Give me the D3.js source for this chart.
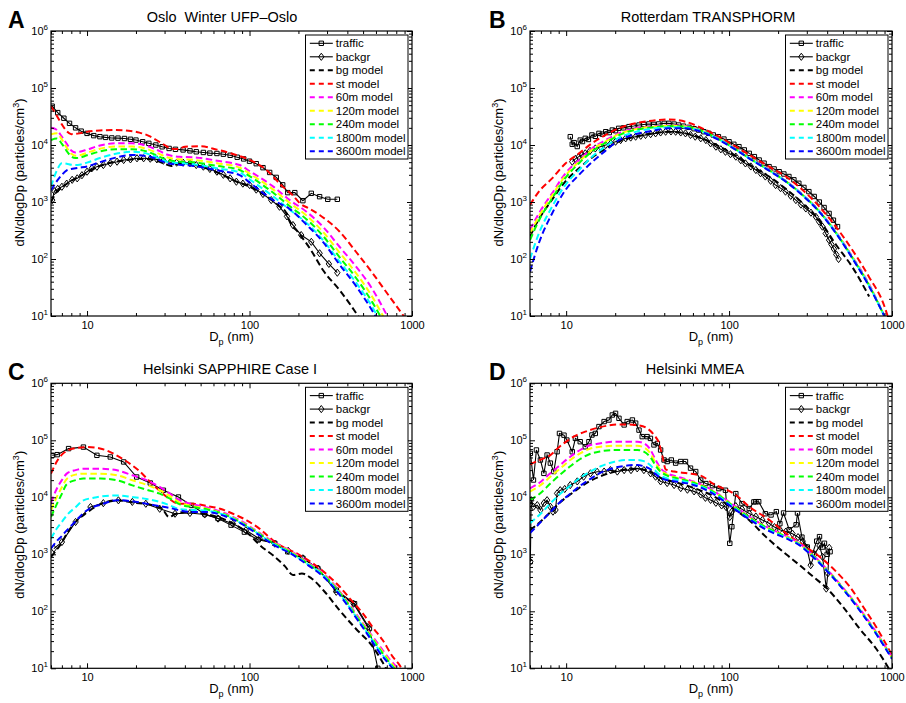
<!DOCTYPE html>
<html><head><meta charset="utf-8">
<script src="https://cdn.jsdelivr.net/npm/d3@7"></script>
<style>
body{margin:0;background:#fff}
svg{display:block}
text{font-family:"Liberation Sans",Arial,Helvetica,sans-serif;fill:#000;white-space:pre}
</style>
</head><body>
<svg id="c" width="906" height="703"></svg>
<script>
// ---------- labels ----------
const legendLabels = ["traffic","backgr","bg model","st model","60m model","120m model","240m model","1800m model","3600m model"];
const modelColors = ["#000000","#ff0000","#ff00ff","#ffff00","#00ff00","#00ffff","#0000ff"];
const xMajorTicks = [10,100,1000];
const xMinorTicks = [6,7,8,9,20,30,40,50,60,70,80,90,200,300,400,500,600,700,800,900];
const yMajorTicks = [10,100,1000,10000,100000,1000000];
const yExponents = [1,2,3,4,5,6];
const panelTitles = ["Oslo\u00a0 Winter UFP\u2013Oslo","Rotterdam TRANSPHORM","Helsinki SAPPHIRE Case I","Helsinki MMEA"];
const panelLetters = ["A","B","C","D"];

// ---------- Panel A : Oslo ----------
const A_traffic = [[6.1,48000],[6.6,37000],[7.2,29500],[7.8,24000],[8.5,20000],[9.2,17500],[10,16000],[11,14600],[12,14000],[13,13600],[14.2,13300],[15.5,13200],[17,13000],[18.5,12600],[20,12200],[22,11400],[24,10700],[26.5,10000],[29,9300],[32,8700],[35,8400],[39,8200],[43,7900],[47,7600],[52,7400],[57,7200],[63,7100],[69,6900],[76,6600],[84,6100],[92,5700],[100,5200],[110,4700],[121,4000],[133,3300],[146,2700],[160,2000],[172,1460],[190,1460],[213,1055],[240,1420],[270,1240],[303,1115],[347,1115]];
const A_backgr = [[6.1,1080],[6.3,1550],[6.6,1700],[7,1850],[7.5,2100],[8.1,2450],[8.7,2600],[9.3,2950],[10,3400],[10.7,3900],[11.5,4150],[12.6,4450],[13.9,4800],[15.3,5100],[16.8,5450],[18.5,5600],[20.3,5850],[22.3,5850],[24.5,5750],[26.9,5600],[29.5,5300],[32.5,4970],[35.6,4900],[39,4900],[43,4800],[47,4450],[52,4170],[57,3800],[63,3400],[69,3000],[76,2600],[83,2270],[91,2100],[100,1990],[110,1650],[121,1380],[136,1080],[153,826],[170,560],[185,394],[208,263],[240,200],[270,126],[308,82],[347,57.5]];
const A_bgModel = [[6,1000],[6.5,1500],[7,1800],[8,2350],[9,2800],[10,3300],[12,4300],[15,5100],[18,5500],[22,5700],[26,5400],[30,4700],[33,4300],[36,4700],[40,4800],[50,4200],[63,3300],[80,2400],[100,1850],[125,1300],[150,880],[169,630],[177,450],[200,290],[240,140],[283,64],[358,28.5],[410,17],[466,10],[500,7.5]];
const A_stModel = [[6,48000],[6.5,33000],[7,23000],[7.5,17500],[8,15500],[9,16000],[10,17000],[12,18000],[15,18300],[18,17800],[21,16500],[24,14500],[27,12000],[30,10000],[33,8600],[36,8500],[40,9300],[50,9500],[63,8300],[80,6900],[100,5500],[125,3800],[160,1860],[185,1300],[204,950],[235,760],[270,592],[359,301],[452,134],[573,56],[726,22],[877,10.5],[950,7.5]];
const A_grid = [6,6.5,7,7.5,8,8.5,9,10,12,15,19,24,28,31,37,45,50,63,87,100,140,177,224,283,358,454,573,692];
const A_60m   = [20000,18500,14000,10500,8000,7400,7600,8300,9800,10700,10700,9400,7800,6800,6200,6100,5900,5300,4450,3500,1860,1080,676,369,164,73,29,11];
const A_120m  = [15500,16000,12500,9000,7000,6500,6600,7300,8600,9400,9400,8300,6900,6100,5600,5500,5300,4800,4000,3150,1650,960,580,300,130,56,21,8];
const A_240m  = [12200,13000,10500,7800,6300,5900,6000,6600,7700,8400,8400,7500,6200,5500,5100,5000,4800,4300,3650,2850,1450,840,500,255,108,46,17,6.5];
const A_1800m = [1850,3500,4800,4700,4500,4450,4500,4900,5900,7000,7600,6900,5800,5100,4800,4600,4400,3900,3300,2500,1250,730,430,215,90,38,14,5.2];
const A_3600m = [1600,2300,3000,3600,3800,3900,4000,4200,5000,6000,6700,6300,5400,4800,4500,4300,4100,3600,2960,2200,1080,750,400,200,80,33,12,4.5];

// ---------- Panel B : Rotterdam ----------
const B_traffic = [[10.6,14000],[10.9,10300],[11.2,11000],[11.7,9400],[12.2,12200],[12.6,11500],[13.1,13100],[13.7,12500],[14.4,15000],[15.1,14200],[15.9,16000],[16.7,15500],[17.5,17100],[18.4,16500],[19.2,18300],[20.1,17800],[21,19600],[22.5,20000],[24.3,21000],[26,21500],[28,22400],[30,22900],[32.2,23400],[34.5,23000],[37,23400],[40,24000],[42.7,24000],[46,23300],[49,22400],[52.5,21400],[56.7,20400],[61,19300],[65,18300],[70,17100],[75,16000],[80,15000],[86,14000],[93,12700],[100,11400],[107,10300],[115,9350],[124,8200],[133,7140],[143,6250],[153,5450],[164,4800],[176,4170],[189,3800],[203,3400],[217,3100],[233,2800],[250,2450],[268,2130],[288,1800],[309,1520],[333,1250],[358,1000],[383,800],[411,630],[437,480],[463,370]];
const B_backgr = [[10.9,5100],[11.4,5700],[11.96,6250],[12.5,6700],[13.1,7140],[14,7900],[15.1,8700],[16.2,9300],[17.5,10000],[18.8,10700],[20.1,11400],[21.6,12200],[23.2,13100],[24.9,13500],[26.7,14000],[28.7,14500],[30.7,15000],[33,15500],[35.4,16000],[38,16600],[40.8,17100],[44,17300],[47,17100],[50.5,16600],[54,16000],[58,15000],[62,14000],[67,13100],[72,12200],[77,10700],[83,9350],[89,8400],[95,7600],[102,6900],[110,6250],[118,5400],[126,4750],[136,4200],[146,3640],[156,3200],[167,2800],[180,2350],[193,1980],[207,1750],[222,1520],[239,1280],[257,1080],[276,900],[296,770],[318,650],[341,550],[357,450],[374,370],[392,280],[411,215],[425,180],[440,150],[455,120],[470,100]];
const B_grid = [6,6.8,8.2,9.9,12,14.4,17.5,21,26.7,33.8,42.7,54,68.5,86.7,110,139,176,223,283,358,452,571,724,897];
const B_bgModel = [250,500,1100,2300,3900,6000,8600,11500,14000,16000,17000,16000,13000,9500,6500,4200,2800,1700,950,480,180,72,22,6];
const B_stModel = [890,1520,2600,4750,7140,10700,15000,19600,24000,26700,28100,25600,19600,14000,9350,6250,4170,2800,1620,830,370,144,48,15];
const B_60m   = [325,630,1420,3180,5450,8700,12200,16000,19600,21000,22000,21400,17800,12800,8500,5500,3700,2350,1350,700,300,110,36,10];
const B_120m  = [280,560,1300,2900,5100,8200,11600,15500,19000,20700,21700,21200,17600,12700,8400,5450,3650,2320,1330,690,295,108,35,10];
const B_240m  = [215,470,1150,2650,4800,7700,11000,14800,18500,20300,21400,21000,17500,12600,8350,5400,3600,2300,1320,680,290,105,34,10];
const B_1800m = [100,280,830,2000,3640,6200,9500,13300,17000,19300,20500,20300,17200,12500,8300,5400,3600,2300,1320,680,290,105,34,10];
const B_3600m = [60,190,630,1620,3000,5000,8000,12000,15500,17700,19600,19600,16800,12200,8200,5350,3550,2280,1300,670,285,103,33,10];

// ---------- Panel C : Helsinki SAPPHIRE ----------
const C_traffic = [[6.1,54500],[6.55,56000],[7.7,71500],[9.5,76000],[11.5,54500],[13.9,51000],[16.8,41700],[20.2,22700],[24.5,17800],[29.5,13300],[36.5,10100],[44,7200],[53,5100],[64,4250],[77,3250],[93,2450],[113,1800],[143,1560],[172,1110],[213,850],[263,565],[342,235],[443,136],[547,50],[616,10]];
const C_backgr = [[6.25,1260],[7.0,1640],[8.5,3690],[10.5,6760],[12.6,7900],[15.6,8850],[19,8300],[23,7700],[28,6300],[34.8,5150],[43,5300],[53,5000],[64,4230],[79,3440],[95,2640],[115,1880],[143,1540],[173,1150],[213,850],[264,560],[342,220],[437,136],[535,53]];
const C_bgModel = [[6,900],[6.5,1200],[7,1600],[7.5,2300],[8.5,3700],[10,5400],[12,7500],[15.3,8850],[19,8100],[25.6,7200],[29,6300],[32,4500],[35,5100],[40,5500],[45,5500],[55,5000],[70,4100],[85,3100],[100,2200],[116,1440],[140,950],[165,620],[185,433],[210,460],[240,380],[290,220],[358,104],[450,50],[573,24],[692,10],[740,7]];
const C_stModel = [[6,26000],[6.5,42000],[7,56000],[7.5,65000],[8.5,73000],[10,76000],[12,72000],[14.6,58000],[17,45000],[19.3,35000],[21,29000],[24.5,18500],[28,13000],[31,10100],[37,7700],[45,7700],[55,7000],[66,6300],[79,5150],[96,3950],[115,2820],[147,1560],[200,1000],[245,695],[300,440],[358,272],[420,160],[498,92],[580,50],[661,31],[760,16],[836,11.5],[880,9]];
const C_grid = [6,6.5,7,7.5,8.5,9.5,11,12.1,15.3,19,23.3,28,32.4,37.3,45,55,70,85,110,140,177,230,283,340,394,460,540,630,720,817];
const C_60m   = [8000,14000,20000,26000,30000,31700,31700,31700,29700,24300,19900,15200,11600,8850,7500,6600,5300,4100,2600,1650,1170,720,466,270,158,85,45,25,15,10];
const C_120m  = [5900,10000,15000,21000,25000,26000,26000,26000,24300,19900,16500,13300,10500,8000,7000,6300,5100,3950,2520,1600,1130,690,450,260,152,81,43,23,14,9];
const C_240m  = [4500,7500,11500,17000,20000,21300,21300,21300,19900,16200,13500,11600,9500,7500,6700,6100,5000,3850,2470,1560,1100,675,440,253,148,78,41,22,13,8.6];
const C_1800m = [1880,2800,3700,4830,6700,8850,9800,10300,10800,10100,9300,8300,7200,6200,6000,5800,4900,3780,2420,1520,1070,660,430,245,142,75,39,20.5,12.5,8.2];
const C_3600m = [1260,1700,2100,2630,3800,5300,6800,7400,8900,8500,7700,7000,6500,5900,5500,5500,4700,3700,2350,1480,1050,640,410,235,135,72,37,19,12,7.8];

// ---------- Panel D : Helsinki MMEA ----------
const D_traffic = [[6.03,59000],[6.3,20100],[6.57,67600],[6.95,45100],[7.3,26300],[7.64,55200],[8.0,39800],[8.4,28300],[8.8,63100],[9.1,132000],[9.7,123000],[10.1,101000],[10.9,63000],[11.4,108000],[12.2,94500],[13.1,77000],[13.8,94500],[14.4,124000],[15.1,132000],[15.9,174000],[17.1,213000],[18.3,227000],[19.2,278000],[20.1,297000],[21.1,243000],[22.7,186000],[23.7,213000],[25.5,227000],[26.7,200000],[28,151000],[29.3,116000],[31.4,116000],[32.9,108000],[34.6,83000],[36.3,88000],[38,67600],[39.9,45100],[41.7,42400],[44.2,45100],[47,39800],[50.5,42400],[54,42400],[58,32500],[62.4,28300],[67,20100],[72,17400],[79,16000],[86.6,14200],[95,13300],[101,1560],[104,3050],[110,11600],[120,7740],[133,6340],[142,8300],[146,8380],[152,8380],[167,5150],[181,4900],[195,5600],[205,3450],[216,5300],[234,2700],[258,3300],[263,5300],[280,2000],[302,1340],[325,1030],[345,1700],[359,2040],[375,1340],[385,1560],[400,1000],[417,1110]];
const D_backgr = [[6.03,740],[6.1,8900],[6.3,6840],[6.65,7300],[6.95,6000],[7.3,7900],[7.64,8900],[8.0,6840],[8.3,5600],[8.6,6000],[8.8,11700],[9.2,13300],[9.8,14000],[10.6,16400],[11.7,19000],[12.8,23000],[14.1,26300],[15.5,28000],[17.1,28300],[18.7,30000],[20.6,28300],[22.7,30000],[25,30000],[27.3,32200],[30,30000],[33,26300],[35.4,23000],[38,19000],[41.7,17800],[46,16400],[50.5,14500],[55.5,13600],[61,12700],[67,11200],[71.6,9800],[77,9000],[83,8000],[90,7200],[96,6700],[101,4500],[104,5600],[110,7000],[120,6200],[133,5200],[146,4600],[160,4000],[176,3500],[190,3000],[205,2700],[223,2500],[245,2300],[265,2000],[283,1700],[300,1300],[317,645],[335,1000],[359,1400],[375,900],[395,250],[404,465],[412,1300]];
const D_stModel = [[6,38000],[7,46000],[8,55000],[9,75000],[10,95000],[11.7,125000],[13.4,145000],[15.5,165000],[17.8,180000],[20.6,190000],[23.7,190000],[27.3,185000],[31.4,162000],[34.6,124000],[37.2,88000],[39,52000],[40.8,31000],[46,28300],[55.5,26300],[67,24000],[79,17600],[110,11000],[133,6840],[177,4000],[224,2340],[283,1460],[359,910],[455,495],[550,270],[665,120],[800,53],[1000,17]];
const D_grid = [6,7,8,9.2,10.6,12.2,14.1,16.3,19.8,23.7,27.3,30,33,35.4,38,41.7,48,61,80,105,135,169,224,270,330,394,500,631,800,1000];
const D_bgModel = [2630,3800,5500,8200,11200,15000,19500,23500,28000,31000,31700,30500,28000,25000,22000,20000,18000,14500,10500,6500,3800,2000,1000,650,400,260,120,50,22,8];
const D_60m   = [14400,18800,26400,36900,51600,67600,82800,88600,94600,94600,94600,88600,67600,45300,32300,26400,23000,18800,13000,7500,4500,3050,2100,1560,950,567,260,113,43,15.6];
const D_120m  = [12600,16500,23000,32000,45000,59000,72000,77000,80000,80000,80000,75000,58000,40000,30000,25000,22000,18200,12700,7300,4350,3000,2050,1520,930,555,255,110,42,15.4];
const D_240m  = [9000,12000,17500,25000,35000,47000,58000,64000,67600,67600,67600,63000,50000,36000,28000,24000,21500,17800,12500,7200,4300,2950,2000,1500,920,550,252,108,41,15.2];
const D_1800m = [3500,5200,7800,11500,16000,22000,28500,35000,42000,45300,45300,43000,36000,29000,24000,21500,20000,17000,12000,6900,4100,2800,1950,1480,900,540,248,107,41,15.0];
const D_3600m = [2350,3700,5500,8300,11500,16000,21000,27000,33000,36000,36900,35000,31000,25500,22000,20000,18800,16300,11500,6600,4000,2700,1900,1450,880,530,245,105,40,14.6];

// ---------- assembly ----------
const zipG = (g, v) => g.map((d, i) => [d, v[i]]);
const panels = [
  {left:51, top:31, w:361, h:285, titleX:222, letterX:8,
   traffic:A_traffic, backgr:A_backgr,
   models:[A_bgModel, A_stModel, zipG(A_grid,A_60m), zipG(A_grid,A_120m), zipG(A_grid,A_240m), zipG(A_grid,A_1800m), zipG(A_grid,A_3600m)]},
  {left:530, top:31, w:362, h:285, titleX:708, letterX:489,
   traffic:B_traffic, backgr:B_backgr,
   models:[zipG(B_grid,B_bgModel).filter(d=>d[0]<=800), zipG(B_grid,B_stModel).concat([[940,10]]), zipG(B_grid,B_60m), zipG(B_grid,B_120m), zipG(B_grid,B_240m), zipG(B_grid,B_1800m), zipG(B_grid,B_3600m)]},
  {left:51, top:383.3, w:361, h:285, titleX:230, letterX:8,
   traffic:C_traffic, backgr:C_backgr,
   models:[C_bgModel, C_stModel, zipG(C_grid,C_60m), zipG(C_grid,C_120m), zipG(C_grid,C_240m), zipG(C_grid,C_1800m), zipG(C_grid,C_3600m)]},
  {left:530, top:383.3, w:362, h:285, titleX:695, letterX:489,
   traffic:D_traffic, backgr:D_backgr,
   models:[zipG(D_grid,D_bgModel), D_stModel, zipG(D_grid,D_60m), zipG(D_grid,D_120m), zipG(D_grid,D_240m), zipG(D_grid,D_1800m), zipG(D_grid,D_3600m)]}
];

const svg = d3.select("#c");
const diamondPath = "M0,-3.6L2.7,0L0,3.6L-2.7,0Z";
const squarePath = "M-2.2,-2.2H2.2V2.2H-2.2Z";

panels.forEach((p, pi) => {
  const x = d3.scaleLog().domain([6,1000]).range([p.left, p.left + p.w]);
  const y = d3.scaleLog().domain([10,1e6]).range([p.top + p.h, p.top]);
  const g = svg.append("g");
  const cid = "clip" + pi;
  svg.append("clipPath").attr("id", cid).append("rect")
    .attr("x", p.left).attr("y", p.top).attr("width", p.w).attr("height", p.h);
  const plot = g.append("g").attr("clip-path", `url(#${cid})`);

  const lineLin = d3.line().x(d => x(d[0])).y(d => y(d[1]));
  const lineSmooth = d3.line().x(d => x(d[0])).y(d => y(d[1])).curve(d3.curveMonotoneX);

  // measured data
  [[p.traffic, squarePath], [p.backgr, diamondPath]].forEach(([data, mk]) => {
    plot.append("path").attr("d", lineLin(data)).attr("fill","none").attr("stroke","#000").attr("stroke-width",1.1);
    plot.selectAll(null).data(data).enter().append("path")
      .attr("d", mk).attr("transform", d => `translate(${x(d[0])},${y(d[1])})`)
      .attr("fill","none").attr("stroke","#000").attr("stroke-width",1);
  });
  // models
  p.models.forEach((data, mi) => {
    plot.append("path").attr("d", lineSmooth(data)).attr("fill","none")
      .attr("stroke", modelColors[mi]).attr("stroke-width", 2)
      .attr("stroke-dasharray","6.5,3.5");
  });

  // axes (inward ticks on all sides)
  const bottomY = p.top + p.h;
  const fixAxis = sel => { sel.select(".domain").remove(); sel.attr("font-family", null).attr("font-size", null); };
  g.append("g").attr("transform",`translate(0,${bottomY})`)
    .call(d3.axisBottom(x).tickValues(xMajorTicks).tickSizeInner(-5).tickSizeOuter(0).tickPadding(5).tickFormat(d3.format("d")))
    .call(fixAxis).selectAll("text").style("font-size","11px");
  g.append("g").attr("transform",`translate(0,${bottomY})`)
    .call(d3.axisBottom(x).tickValues(xMinorTicks).tickSizeInner(-3).tickSizeOuter(0).tickFormat("")).call(fixAxis);
  g.append("g").attr("transform",`translate(0,${p.top})`)
    .call(d3.axisTop(x).tickValues(xMajorTicks).tickSizeInner(-5).tickSizeOuter(0).tickFormat("")).call(fixAxis);
  g.append("g").attr("transform",`translate(0,${p.top})`)
    .call(d3.axisTop(x).tickValues(xMinorTicks).tickSizeInner(-3).tickSizeOuter(0).tickFormat("")).call(fixAxis);
  const yMinor = [];
  for (let e = 1; e < 6; e++) for (let k = 2; k <= 9; k++) yMinor.push(k * Math.pow(10, e));
  g.append("g").attr("transform",`translate(${p.left},0)`)
    .call(d3.axisLeft(y).tickValues(yMajorTicks).tickSizeInner(-5).tickSizeOuter(0).tickFormat("")).call(fixAxis);
  g.append("g").attr("transform",`translate(${p.left},0)`)
    .call(d3.axisLeft(y).tickValues(yMinor).tickSizeInner(-3).tickSizeOuter(0).tickFormat("")).call(fixAxis);
  g.append("g").attr("transform",`translate(${p.left + p.w},0)`)
    .call(d3.axisRight(y).tickValues(yMajorTicks).tickSizeInner(-5).tickSizeOuter(0).tickFormat("")).call(fixAxis);
  g.append("g").attr("transform",`translate(${p.left + p.w},0)`)
    .call(d3.axisRight(y).tickValues(yMinor).tickSizeInner(-3).tickSizeOuter(0).tickFormat("")).call(fixAxis);
  g.selectAll(".tick line").attr("stroke","#000");

  // y tick labels 10^n
  yMajorTicks.forEach((v, i) => {
    const t = g.append("text").attr("x", p.left - 3).attr("y", y(v) + 4)
      .attr("text-anchor","end").style("font-size","11px");
    t.append("tspan").text("10");
    t.append("tspan").attr("dy",-5).style("font-size","8px").text(yExponents[i]);
  });

  // frame
  g.append("rect").attr("x", p.left).attr("y", p.top).attr("width", p.w).attr("height", p.h)
    .attr("fill","none").attr("stroke","#000").attr("stroke-width",1.2);

  // title, letter, labels
  g.append("text").attr("x", p.titleX).attr("y", p.top - 9).attr("text-anchor","middle")
    .style("font-size","14.5px").text(panelTitles[pi]);
  g.append("text").attr("x", p.letterX).attr("y", p.top - 3)
    .style("font-size","23px").style("font-weight","bold").text(panelLetters[pi]);
  const yl = g.append("text")
    .attr("transform", `translate(${p.left - 27},${p.top + p.h / 2 - 1}) rotate(-90)`)
    .attr("text-anchor","middle").style("font-size","13px");
  yl.append("tspan").text("dN/dlogDp (particles/cm");
  yl.append("tspan").attr("dy",-5).style("font-size","9px").text("3");
  yl.append("tspan").attr("dy",5).text(")");
  const xl = g.append("text").attr("x", p.left + p.w / 2).attr("y", bottomY + 25)
    .attr("text-anchor","middle").style("font-size","13px");
  xl.append("tspan").text("D");
  xl.append("tspan").attr("dy",4).style("font-size","9px").text("p");
  xl.append("tspan").attr("dy",-4).text(" (nm)");

  // legend
  const lw = 102.5, lh = 124;
  const lg = g.append("g").attr("transform", `translate(${p.left + p.w - 4 - lw},${p.top + 4})`);
  lg.append("rect").attr("width", lw).attr("height", lh).attr("fill","#fff").attr("stroke","#000").attr("stroke-width",1);
  legendLabels.forEach((lab, i) => {
    const ry = 8.3 + i * 13.5;
    if (i < 2) {
      lg.append("line").attr("x1",4.3).attr("x2",27.3).attr("y1",ry).attr("y2",ry).attr("stroke","#000").attr("stroke-width",1.1);
      lg.append("path").attr("d", i === 0 ? squarePath : diamondPath).attr("transform",`translate(15.8,${ry})`)
        .attr("fill","none").attr("stroke","#000");
    } else {
      lg.append("line").attr("x1",4.3).attr("x2",27.3).attr("y1",ry).attr("y2",ry)
        .attr("stroke", modelColors[i - 2]).attr("stroke-width",2).attr("stroke-dasharray","5,4");
    }
    lg.append("text").attr("x",30.3).attr("y", ry + 4).style("font-size","11.5px").text(lab);
  });
});
</script>
</body></html>
